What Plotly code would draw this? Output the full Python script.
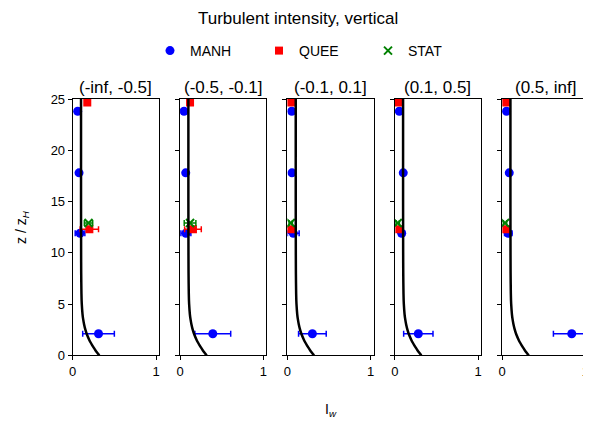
import plotly.graph_objects as go

# ---------------- data ----------------
bins = ["(-inf, -0.5]", "(-0.5, -0.1]", "(-0.1, 0.1]", "(0.1, 0.5]", "(0.5, inf]"]

manh_z = [2.1, 11.9, 17.8, 23.8]
manh_I = [
    [0.31, 0.088, 0.076, 0.060],
    [0.393, 0.070, 0.068, 0.048],
    [0.300, 0.071, 0.055, 0.052],
    [0.283, 0.083, 0.102, 0.055],
    [0.836, 0.074, 0.086, 0.053],
]
manh_err = [
    [0.19, 0.058, 0.01, 0.01],
    [0.215, 0.06, 0.01, 0.01],
    [0.166, 0.07, 0.01, 0.01],
    [0.176, 0.035, 0.01, 0.01],
    [0.22, 0.045, 0.01, 0.01],
]

quee_z = [12.3, 24.65]
quee_I = [
    [0.20, 0.175],
    [0.155, 0.12],
    [0.043, 0.043],
    [0.055, 0.043],
    [0.050, 0.050],
]
quee_err = [
    [0.11, 0.01],
    [0.10, 0.01],
    [0.02, 0.01],
    [0.02, 0.01],
    [0.02, 0.01],
]

stat_z = [12.9]
stat_I = [[0.19], [0.12], [0.04], [0.036], [0.035]]
stat_err = [[0.05], [0.07], [0.02], [0.02], [0.02]]

curve_z = [0, 0.25, 0.5, 0.75, 1, 1.25, 1.5, 2, 2.5, 3, 3.5, 4, 5, 6, 8, 10, 15, 20, 25]
curve_I = [0.32, 0.295, 0.272, 0.252, 0.233, 0.215, 0.199, 0.172, 0.152, 0.137,
           0.126, 0.118, 0.109, 0.105, 0.102, 0.101, 0.100, 0.100, 0.100]

x_ticks = [0, 1]
y_ticks = [0, 5, 10, 15, 20, 25]

# ---------------- layout geometry ----------------
# The page body has an 8px margin, so the figure is drawn 8px in from the window corner.
OFF = 8
WIN_W, WIN_H = 591, 425
W, H = WIN_W - OFF, WIN_H - OFF


def px(X):
    return (X - OFF) / W


def py(Y):
    return (H - (Y - OFF)) / H


left0, step, pw = 72.7, 107.35, 86.3
top_px, bot_px = 99.0, 355.3
ydom = [py(bot_px), py(top_px)]

FONT = "Liberation Sans, Arial, Helvetica, sans-serif"

fig = go.Figure()

for i in range(5):
    ax = "" if i == 0 else str(i + 1)
    xa, ya = "x" + ax, "y" + ax
    show = i == 0
    fig.add_trace(go.Scatter(
        x=manh_I[i], y=manh_z, xaxis=xa, yaxis=ya, mode="markers", name="MANH",
        legendgroup="MANH", showlegend=show,
        marker=dict(symbol="circle", size=9, color="blue"),
        error_x=dict(type="data", array=manh_err[i], color="blue", thickness=1.5, width=3),
    ))
    fig.add_trace(go.Scatter(
        x=quee_I[i], y=quee_z, xaxis=xa, yaxis=ya, mode="markers", name="QUEE",
        legendgroup="QUEE", showlegend=show,
        marker=dict(symbol="square", size=8, color="red"),
        error_x=dict(type="data", array=quee_err[i], color="red", thickness=1.5, width=3),
    ))
    fig.add_trace(go.Scatter(
        x=stat_I[i], y=stat_z, xaxis=xa, yaxis=ya, mode="markers", name="STAT",
        legendgroup="STAT", showlegend=show,
        marker=dict(symbol="x-thin", size=8, color="green", line=dict(width=2, color="green")),
        error_x=dict(type="data", array=stat_err[i], color="green", thickness=1.5, width=3),
    ))
    fig.add_trace(go.Scatter(
        x=curve_I, y=curve_z, xaxis=xa, yaxis=ya, mode="lines", showlegend=False,
        line=dict(color="black", width=2.5, shape="spline", smoothing=0.6), hoverinfo="skip",
    ))

    x0 = px(left0 + step * i)
    x1 = min(px(left0 + step * i + pw), 1.0)
    axis_common = dict(
        showline=True, mirror=True, linecolor="black", linewidth=1,
        ticks="outside", ticklen=4, tickwidth=1, tickcolor="black",
        showgrid=False, zeroline=False, automargin=False,
        tickfont=dict(family=FONT, size=13, color="black"),
    )
    fig.layout["xaxis" + ax] = dict(
        domain=[x0, x1], range=[0, 1.036], anchor=ya,
        tickvals=x_ticks, ticktext=[str(v) for v in x_ticks], **axis_common,
    )
    fig.layout["yaxis" + ax] = dict(
        domain=ydom, range=[0, 25], anchor=xa,
        tickvals=y_ticks, ticktext=[str(v) for v in y_ticks],
        showticklabels=(i == 0), **axis_common,
    )
    fig.add_annotation(
        x=(x0 + x1) / 2, y=py(87), xref="paper", yref="paper",
        text=bins[i], showarrow=False, xanchor="center", yanchor="middle",
        font=dict(family=FONT, size=17, color="black"),
    )

fig.add_annotation(
    x=px(298), y=1.0, xref="paper", yref="paper",
    text="Turbulent intensity, vertical", showarrow=False, borderpad=0,
    xanchor="center", yanchor="top", font=dict(family=FONT, size=17, color="black"),
)
fig.add_annotation(
    x=px(331), y=py(410), xref="paper", yref="paper",
    text="I<sub><i>w</i></sub>", showarrow=False,
    xanchor="center", yanchor="middle", font=dict(family=FONT, size=14, color="black"),
)
fig.add_annotation(
    x=px(22), y=py(227), xref="paper", yref="paper",
    text="z / z<sub><i>H</i></sub>", showarrow=False, textangle=-90,
    xanchor="center", yanchor="middle", font=dict(family=FONT, size=14, color="black"),
)

fig.update_layout(
    template="none",
    width=W, height=H,
    margin=dict(l=0, r=0, t=0, b=0, autoexpand=False),
    paper_bgcolor="white", plot_bgcolor="white",
    showlegend=True,
    legend=dict(
        orientation="h", x=px(150), y=py(51), xanchor="left", yanchor="middle",
        font=dict(family=FONT, size=14, color="black"),
        entrywidth=64, entrywidthmode="pixels", bgcolor="rgba(0,0,0,0)", borderwidth=0,
    ),
)

fig.write_html("out.html")
